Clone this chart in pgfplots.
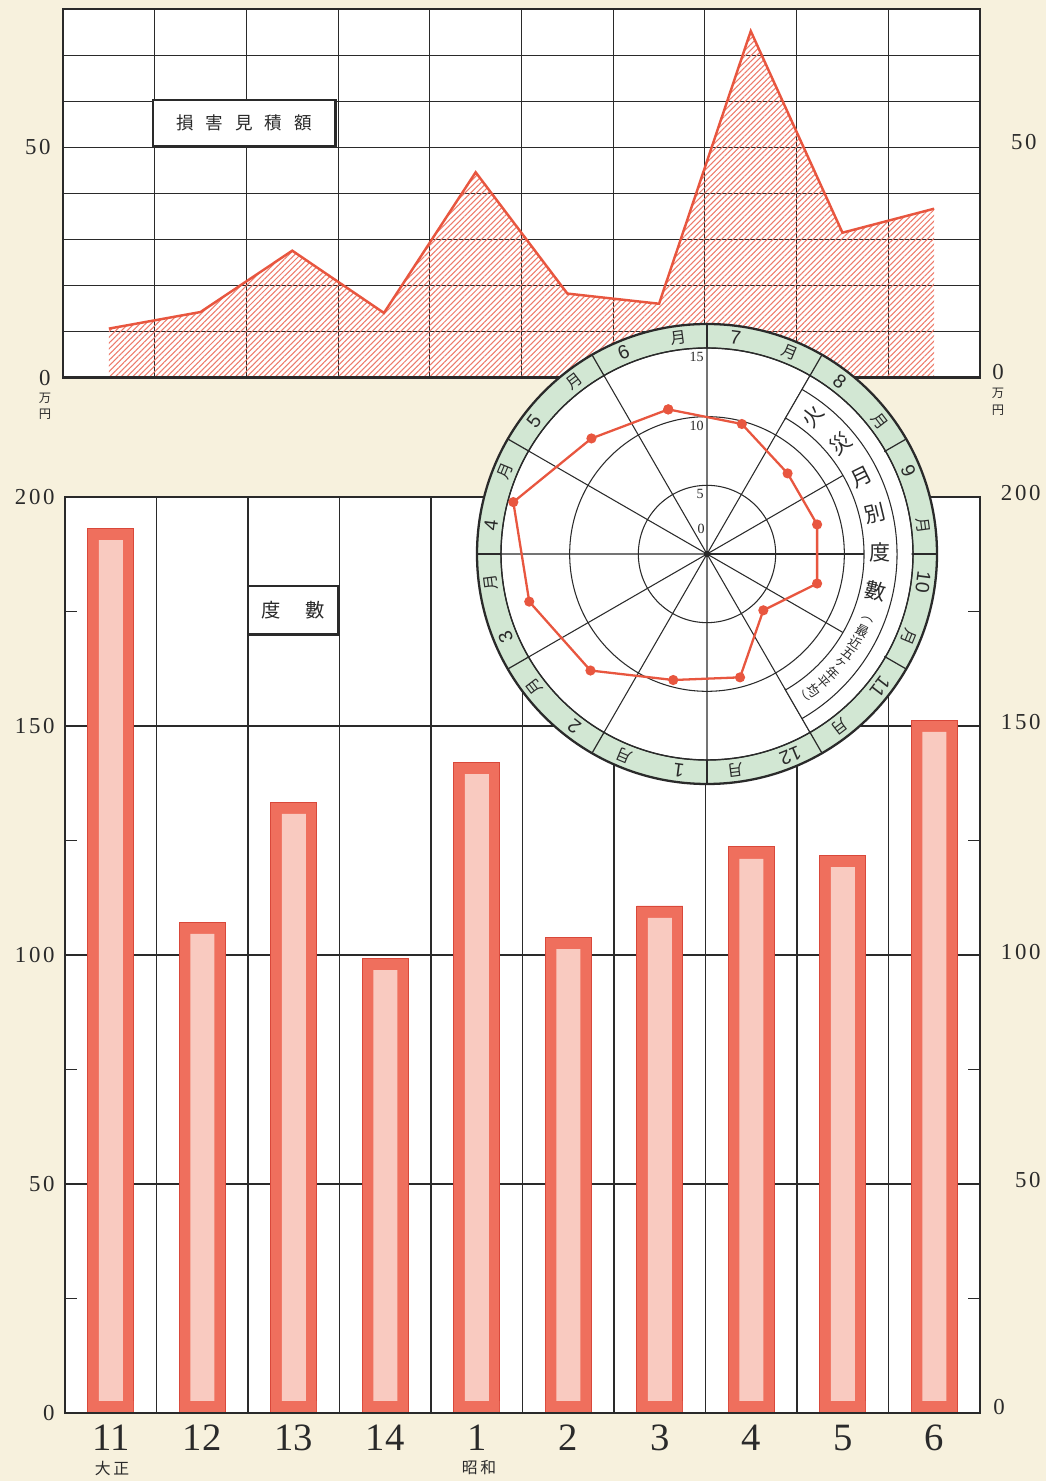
\documentclass[border=0pt]{standalone}
\usepackage{fontspec}
\setmainfont{Liberation Serif}
\newfontfamily\cjk{Noto Sans CJK JP}
\newfontfamily\numfont[LetterSpace=12]{Liberation Serif}
\newfontfamily\ringfont{Liberation Sans}
\usepackage{pgfplots}
\pgfplotsset{compat=1.18}
\usepgfplotslibrary{polar}
\usetikzlibrary{patterns.meta}
\definecolor{paper}{HTML}{F7F1DD}
\definecolor{redline}{HTML}{E8563F}
\definecolor{hatch}{HTML}{EE7A6A}
\definecolor{barred}{HTML}{EF6F5D}
\definecolor{bardark}{HTML}{D9483A}
\definecolor{barpink}{HTML}{F9CAC0}
\definecolor{ringgreen}{HTML}{D2E7D3}
\definecolor{ink}{HTML}{2A2A2A}
\begin{document}
\begin{tikzpicture}[x=0.2mm,y=0.2mm]
\fill[paper] (0,0) rectangle (1046,1481);
\coordinate (B) at (65,68);
\coordinate (T) at (63,1103);
\coordinate (C) at (707,927);

% ---- bottom chart: 度數
\begin{axis}[at={(B)}, anchor=south west, scale only axis,
  width=183mm, height=183.2mm,
  xmin=0, xmax=10, ymin=0, ymax=200,
  axis background/.style={fill=white},
  xtick={0.5,1.5,...,9.5},
  xticklabels={11,12,13,14,1,2,3,4,5,6},
  xticklabel style={font=\fontsize{22}{24}\selectfont, inner sep=0pt, yshift=-2.3mm, text=ink},
  minor xtick={1,...,9}, xminorgrids,
  ytick={0,50,...,200}, yticklabels={0,50,100,150,200}, ymajorgrids,
  minor ytick={25,75,125,175},
  yticklabel style={font=\numfont\fontsize{13}{14}\selectfont, anchor=east, inner sep=0pt, xshift=-2mm, text=ink},
  xtick pos=both, ytick pos=both,
  tick align=inside, major tick length=0pt, minor tick length=2.4mm,
  grid style={ink, line width=0.65pt},
  minor grid style={ink, line width=0.65pt},
  minor tick style={ink, line width=0.65pt},
  axis line style={ink, line width=0.7pt},
]
\addplot[ybar, bar width=9.2mm, bar shift=0pt, fill=barred, draw=bardark, line width=0.5pt]
  coordinates {(0.5,193.2) (1.5,107.2) (2.5,133.4) (3.5,99.3) (4.5,142.1) (5.5,103.9) (6.5,110.7) (7.5,123.6) (8.5,121.8) (9.5,151.3)};
\addplot[ybar, bar width=4.8mm, bar shift=0pt, fill=barpink, draw=none]
  coordinates {(0.5,190.6) (1.5,104.6) (2.5,130.8) (3.5,96.7) (4.5,139.5) (5.5,101.3) (6.5,108.1) (7.5,121.0) (8.5,119.2) (9.5,148.7)};
\addplot[ybar, bar width=9.0mm, bar shift=0pt, fill=barred, draw=none]
  coordinates {(0.5,2.6) (1.5,2.6) (2.5,2.6) (3.5,2.6) (4.5,2.6) (5.5,2.6) (6.5,2.6) (7.5,2.6) (8.5,2.6) (9.5,2.6)};
\draw[ink, line width=1.5pt] (rel axis cs:0,0) -- (rel axis cs:1,0);
\end{axis}

% right labels bottom chart
\begin{scope}[font=\numfont\fontsize{13}{14}\selectfont, text=ink]
\node[anchor=east, inner sep=0pt] at (1041,988) {200};
\node[anchor=east, inner sep=0pt] at (1041,759) {150};
\node[anchor=east, inner sep=0pt] at (1041,529) {100};
\node[anchor=east, inner sep=0pt] at (1041,301) {50};
\node[anchor=west, inner sep=0pt] at (993,74) {0};
\end{scope}
\node[text=ink, font=\cjk\fontsize{9}{10}\selectfont] at (112,13) {大\,正};
\node[text=ink, font=\cjk\fontsize{9}{10}\selectfont] at (479,13) {昭\,和};

% ---- top chart: 損害見積額
\begin{axis}[at={(T)}, anchor=south west, scale only axis,
  width=183.4mm, height=73.8mm,
  xmin=0, xmax=10, ymin=0, ymax=80,
  axis background/.style={fill=white},
  xtick={0,...,10}, xticklabels={},
  ytick={0,10,...,80}, yticklabels={0,,,,,50,,,},
  yticklabel style={font=\numfont\fontsize{13}{14}\selectfont, anchor=east, inner sep=0pt, xshift=-2.4mm, text=ink},
  grid=major, major tick length=0pt,
  grid style={ink, line width=0.65pt},
  axis line style={ink, line width=0.7pt},
]
\addplot[draw=none, pattern={Lines[angle=45,distance=2.3pt,line width=0.6pt]}, pattern color=hatch]
  coordinates {(0.5,10.7) (1.5,14.3) (2.5,27.6) (3.5,14.1) (4.5,44.6) (5.5,18.3) (6.5,16.1) (7.5,75.2) (8.5,31.5) (9.5,36.7)} \closedcycle;
\addplot[redline, line width=1.4pt]
  coordinates {(0.5,10.7) (1.5,14.3) (2.5,27.6) (3.5,14.1) (4.5,44.6) (5.5,18.3) (6.5,16.1) (7.5,75.2) (8.5,31.5) (9.5,36.7)};
\draw[ink, line width=1.8pt] (rel axis cs:0,0) -- (rel axis cs:1,0);
\end{axis}
\begin{scope}[text=ink]
\node[font=\cjk\fontsize{7}{8}\selectfont] at (45,1083) {万};
\node[font=\cjk\fontsize{7}{8}\selectfont] at (45,1067) {円};
\node[font=\numfont\fontsize{13}{14}\selectfont, anchor=east, inner sep=0pt] at (1037,1339) {50};
\node[font=\numfont\fontsize{13}{14}\selectfont, anchor=west, inner sep=0pt] at (992,1109) {0};
\node[font=\cjk\fontsize{7}{8}\selectfont] at (998,1088) {万};
\node[font=\cjk\fontsize{7}{8}\selectfont] at (998,1071) {円};
\end{scope}

% label boxes
\node[draw=ink, line width=0.9pt, fill=white, minimum width=36.4mm, minimum height=9.2mm, inner sep=0pt,
  font=\cjk\fontsize{10}{12}\selectfont, text=ink] (b1) at (244,1358) {損\hspace{2.4mm}害\hspace{2.4mm}見\hspace{2.4mm}積\hspace{2.4mm}額};
\draw[ink, line width=1.6pt] (b1.south west) -- (b1.south east) -- (b1.north east);
\node[draw=ink, line width=0.9pt, fill=white, minimum width=17.8mm, minimum height=9.6mm, inner sep=0pt,
  font=\cjk\fontsize{11}{12}\selectfont, text=ink] (b2) at (293,871) {度\hspace{5mm}數};
\draw[ink, line width=1.6pt] (b2.south west) -- (b2.south east) -- (b2.north east);

% ---- monthly polar chart
\fill[white] (C) circle[radius=46mm];
\fill[ringgreen, even odd rule] (C) circle[radius=46mm] (C) circle[radius=41.2mm];
\foreach \a in {0,30,...,330} {
  \draw[ink, line width=0.7pt] ([shift={(C)}]\a:41.2mm) -- ([shift={(C)}]\a:46mm);
}
\draw[ink, line width=1.3pt] (C) circle[radius=46mm];

\begin{polaraxis}[at={(C)}, anchor=center, scale only axis,
  width=82.4mm, height=82.4mm,
  xmin=0, xmax=360, ymin=0, ymax=15,
  xtick={0,30,...,330}, ytick={5,10,15},
  xticklabels={}, yticklabels={},
  grid=major, major tick length=0pt,
  grid style={ink, line width=0.6pt},
  axis line style={ink, line width=0.8pt},
]
\addplot[redline, line width=1.3pt, mark=*, mark size=2.2pt, mark options={fill=redline, draw=redline}]
  coordinates {(105,10.9) (75,9.8) (45,8.3) (15,8.3) (345,8.3) (315,5.8) (285,9.3) (255,9.5) (225,12.0) (195,13.4) (165,14.6) (135,11.9) (105,10.9)};
\end{polaraxis}

% title band 火災月別度數
\fill[white] ([shift={(C)}]60:31.4mm) arc[start angle=60, end angle=-60, radius=31.4mm]
  -- ([shift={(C)}]-60:40.9mm) arc[start angle=-60, end angle=60, radius=40.9mm] -- cycle;
\draw[ink, line width=0.6pt] ([shift={(C)}]60:31.4mm) arc[start angle=60, end angle=-60, radius=31.4mm];
\draw[ink, line width=0.6pt] ([shift={(C)}]60:38mm) arc[start angle=60, end angle=-60, radius=38mm];
\draw[ink, line width=0.6pt] ([shift={(C)}]60:31mm) -- ([shift={(C)}]60:41.2mm);
\draw[ink, line width=0.6pt] ([shift={(C)}]-60:31mm) -- ([shift={(C)}]-60:41.2mm);

\foreach \ch/\ang in {火/52.5, 災/39.5, 月/26.5, 別/13.5, 度/0.5, 數/-12.5} {
  \node[font=\cjk\fontsize{12}{13}\selectfont, text=ink, inner sep=0pt, rotate=\ang] at ([shift={(C)}]\ang:34.6mm) {\ch};
}
\foreach \ch/\ang in {︵/-22, 最/-26.3, 近/-30.6, 五/-34.9, ヶ/-39.2, 年/-43.5, 平/-47.8, 均/-52.1, ︶/-56.4} {
  \node[font=\cjk\fontsize{7.4}{8}\selectfont, text=ink, inner sep=0pt, rotate=\ang] at ([shift={(C)}]\ang:34.6mm) {\ch};
}

% month names in the ring
\foreach \m [count=\i from 0] in {7,8,9,10,11,12,1,2,3,4,5,6} {
  \pgfmathsetmacro\cn{75-30*\i+7.5}
  \pgfmathsetmacro\cm{75-30*\i-7.5}
  \node[font=\ringfont\fontsize{11}{12}\selectfont, text=ink, inner sep=0pt, rotate=\cn-90] at ([shift={(C)}]\cn:43.6mm) {\m};
  \node[font=\cjk\fontsize{9}{10}\selectfont, text=ink, inner sep=0pt, rotate=\cm-90] at ([shift={(C)}]\cm:43.6mm) {月};
}

% radial scale
\begin{scope}[font=\fontsize{8}{9}\selectfont, text=ink]
\node[anchor=east, inner sep=0pt] at (704,1124) {15};
\node[anchor=east, inner sep=0pt] at (704,1055) {10};
\node[anchor=east, inner sep=0pt] at (704,987) {5};
\node[anchor=east, inner sep=0pt] at (705,952) {0};
\end{scope}

\pgfresetboundingbox
\path[use as bounding box] (0,0) rectangle (1046,1481);
\end{tikzpicture}
\end{document}
